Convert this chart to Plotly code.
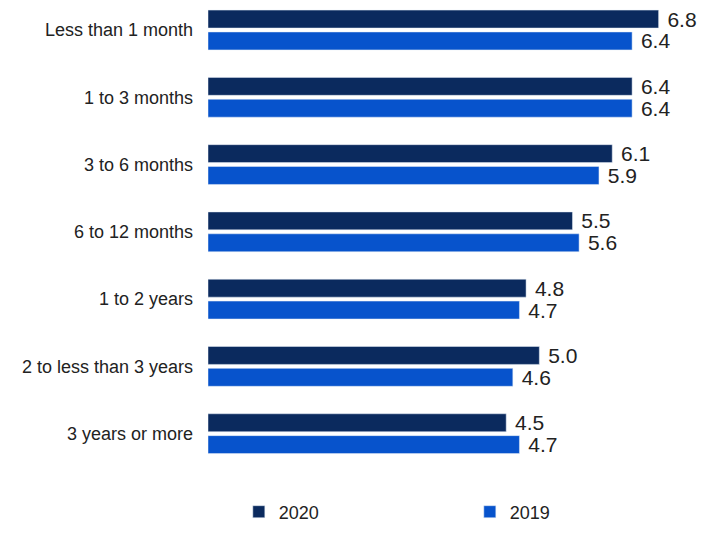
import plotly.graph_objects as go

categories = ["Less than 1 month", "1 to 3 months", "3 to 6 months", "6 to 12 months",
              "1 to 2 years", "2 to less than 3 years", "3 years or more"]
values_2020 = [6.8, 6.4, 6.1, 5.5, 4.8, 5.0, 4.5]
values_2019 = [6.4, 6.4, 5.9, 5.6, 4.7, 4.6, 4.7]

dark = "#0B2A5E"
blue = "#0753CC"
font = "Liberation Sans, Arial, sans-serif"

fig = go.Figure()
for name, vals, col in [("2020", values_2020, dark), ("2019", values_2019, blue)]:
    fig.add_trace(go.Bar(y=categories, x=vals, name=name, orientation="h",
                         marker=dict(color=col), text=vals,
                         texttemplate=" %{x:.1f}", textposition="outside",
                         textfont=dict(size=21, color="#222222", family=font),
                         cliponaxis=False))

fig.update_layout(
    width=725, height=538,
    margin=dict(l=208, r=20, t=0, b=68, autoexpand=False),
    paper_bgcolor="white", plot_bgcolor="white",
    barmode="group", bargap=0.35, bargroupgap=0.18,
    uniformtext=dict(minsize=21, mode="show"),
    font=dict(family=font, size=18, color="#222222"),
    xaxis=dict(range=[0, 7.5], visible=False, automargin=False),
    yaxis=dict(categoryorder="array", categoryarray=categories,
               range=[6.54, -0.446], showgrid=False, showline=False,
               zeroline=False, ticks="", ticklabelstandoff=14, automargin=False,
               tickfont=dict(size=18, color="#222222")),
    legend=dict(orientation="h", x=0.062, xanchor="left", y=-0.05, yanchor="top",
                entrywidth=186, entrywidthmode="pixels",
                font=dict(size=18, color="#222222"), traceorder="normal"),
    showlegend=True,
)
fig.write_html("out.html", config={"displayModeBar": False},
               post_script="document.body.style.margin='0px';")
